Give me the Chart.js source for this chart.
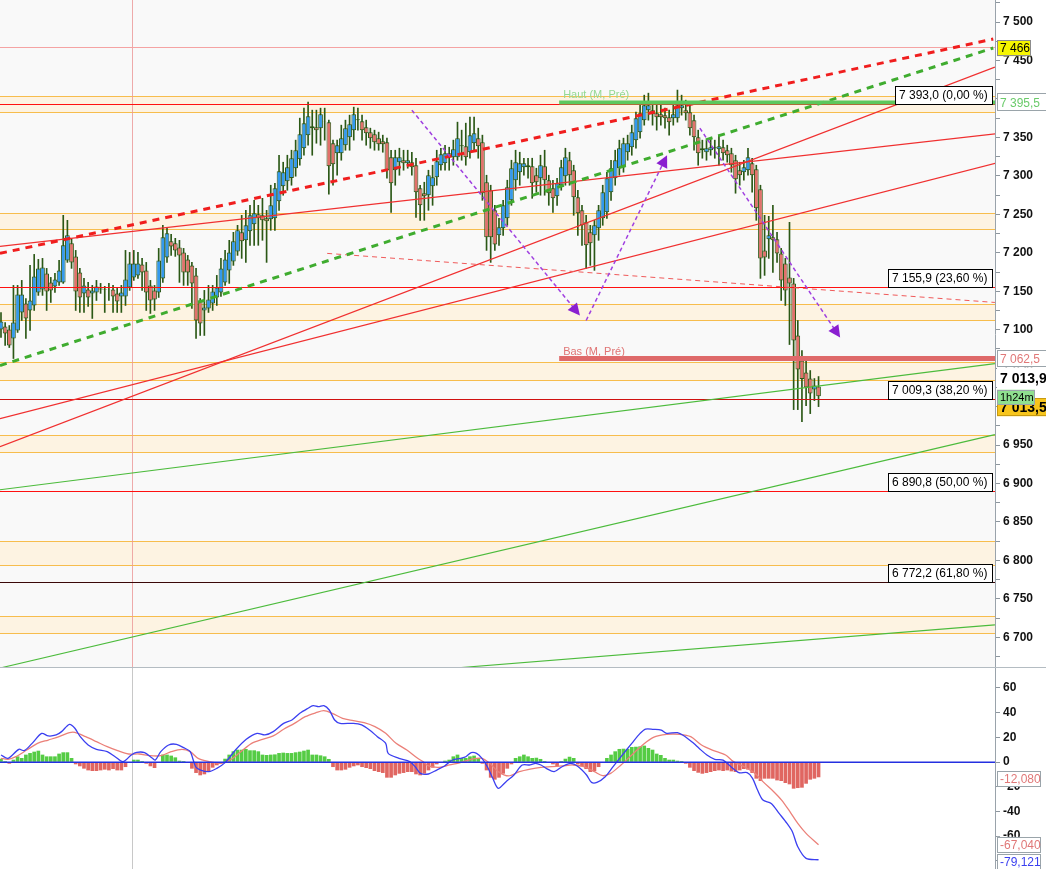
<!DOCTYPE html>
<html>
<head>
<meta charset="utf-8">
<script src="https://cdn.jsdelivr.net/npm/chart.js@4.4.0/dist/chart.umd.min.js"></script>
<style>
  body { margin: 0; background: #fff; width: 1046px; height: 869px; overflow: hidden; }
  #main { position: absolute; left: 0; top: 0; }
  #macd { position: absolute; left: 0; top: 668px; }
</style>
</head>
<body>
<canvas id="main" width="1046" height="668"></canvas>
<canvas id="macd" width="1046" height="201"></canvas>
<script>
// Candles (index 0..197), prices
const opens = [
  7100.2, 7104.1, 7100.2, 7088.5, 7099.0, 7122.4, 7134.1, 7125.0, 7131.5, 7148.5,
  7152.4, 7173.2, 7161.5, 7156.3, 7161.5, 7161.5, 7190.1, 7212.3, 7195.3, 7174.5,
  7147.2, 7152.4, 7147.2, 7148.5, 7152.4, 7152.4, 7152.4, 7152.4, 7147.2, 7143.2,
  7143.2, 7155.0, 7168.0, 7170.6, 7184.9, 7177.1, 7157.6, 7151.1, 7148.5, 7166.7,
  7194.0, 7214.9, 7212.3, 7207.0, 7200.5, 7191.4, 7183.6, 7170.6, 7138.0, 7125.0,
  7127.6, 7134.1, 7141.9, 7148.5, 7161.5, 7177.1, 7188.8, 7201.8, 7226.6, 7216.2,
  7227.9, 7237.0, 7250.0, 7248.7, 7244.8, 7243.5, 7244.8, 7266.9, 7286.5, 7293.0,
  7297.1, 7309.9, 7321.6, 7335.9, 7352.9, 7364.6, 7363.3, 7362.0, 7371.1, 7369.8,
  7342.4, 7329.4, 7329.4, 7339.8, 7350.3, 7359.4, 7372.4, 7371.1, 7363.3, 7356.8,
  7354.2, 7349.0, 7345.0, 7343.7, 7324.2, 7307.3, 7317.7, 7320.3, 7316.4, 7317.7,
  7313.8, 7283.9, 7277.4, 7274.8, 7286.5, 7298.2, 7313.8, 7316.4, 7329.4, 7324.2,
  7324.2, 7339.8, 7338.5, 7330.7, 7342.4, 7349.0, 7343.7, 7291.7, 7281.3, 7255.2,
  7222.7, 7231.8, 7244.8, 7268.2, 7294.3, 7304.7, 7311.2, 7313.8, 7312.5, 7300.8,
  7296.9, 7312.5, 7294.3, 7283.9, 7273.5, 7287.8, 7299.5, 7320.3, 7307.3, 7272.2,
  7255.2, 7239.6, 7226.6, 7222.7, 7231.8, 7244.8, 7252.6, 7278.7, 7296.9, 7309.9,
  7311.2, 7330.7, 7337.2, 7346.4, 7356.8, 7372.4, 7385.4, 7385.4, 7381.5, 7380.2,
  7378.9, 7376.3, 7375.0, 7375.0, 7388.0, 7385.4, 7382.8, 7372.4, 7350.3, 7333.3,
  7330.7, 7333.3, 7337.2, 7334.6, 7337.2, 7333.3, 7329.4, 7320.3, 7307.3, 7304.7,
  7307.3, 7316.4, 7308.6, 7282.6, 7203.1, 7217.5, 7220.1, 7217.5, 7199.2, 7186.2,
  7168.0, 7160.2, 7092.5, 7059.9, 7044.3, 7036.5, 7022.2, 7026.0
];
const closes = [
  7110.7, 7095.0, 7079.4, 7109.4, 7145.8, 7145.8, 7114.6, 7138.0, 7169.3, 7179.7,
  7181.0, 7149.8, 7151.1, 7165.4, 7177.1, 7209.7, 7222.7, 7187.5, 7149.8, 7141.9,
  7157.6, 7141.9, 7151.1, 7156.3, 7153.7, 7153.0, 7152.0, 7143.2, 7136.7, 7148.5,
  7165.4, 7186.2, 7186.2, 7186.2, 7174.5, 7148.5, 7138.0, 7139.3, 7190.1, 7220.1,
  7225.3, 7208.3, 7203.1, 7196.6, 7174.5, 7174.5, 7160.2, 7112.0, 7108.1, 7128.9,
  7139.3, 7149.8, 7155.0, 7179.7, 7191.4, 7200.5, 7214.9, 7229.2, 7214.9, 7235.7,
  7248.7, 7251.3, 7244.8, 7242.2, 7240.9, 7261.7, 7283.9, 7306.0, 7304.7, 7311.2,
  7322.9, 7333.3, 7354.2, 7368.5, 7377.6, 7362.0, 7359.4, 7380.2, 7370.5, 7312.5,
  7315.1, 7339.8, 7349.0, 7362.0, 7367.2, 7380.2, 7373.7, 7359.4, 7355.5, 7349.0,
  7343.7, 7341.1, 7341.1, 7307.3, 7290.4, 7324.2, 7324.2, 7316.4, 7320.3, 7311.2,
  7278.7, 7261.7, 7273.5, 7300.8, 7298.2, 7319.0, 7328.1, 7329.4, 7324.2, 7334.6,
  7349.0, 7338.5, 7324.2, 7352.9, 7355.5, 7338.5, 7277.4, 7220.1, 7220.1, 7210.9,
  7233.1, 7261.7, 7285.2, 7309.9, 7317.7, 7316.4, 7316.4, 7311.2, 7290.4, 7291.7,
  7313.8, 7294.3, 7277.4, 7270.8, 7290.4, 7311.2, 7324.2, 7300.8, 7272.2, 7251.3,
  7235.7, 7209.7, 7212.3, 7235.7, 7255.2, 7278.7, 7296.9, 7309.9, 7320.3, 7335.9,
  7342.4, 7342.4, 7356.8, 7375.0, 7381.5, 7391.9, 7391.9, 7380.2, 7376.3, 7376.3,
  7375.0, 7369.8, 7380.2, 7391.9, 7391.9, 7381.5, 7362.0, 7350.3, 7329.4, 7335.9,
  7335.9, 7337.2, 7335.9, 7338.5, 7329.4, 7326.8, 7313.8, 7295.6, 7300.8, 7311.2,
  7324.2, 7300.8, 7257.8, 7192.7, 7194.0, 7222.7, 7216.2, 7199.2, 7164.1, 7151.1,
  7160.2, 7086.0, 7048.2, 7036.0, 7024.7, 7017.0, 7027.4, 7013.5
];
const highs = [
  7122.4, 7109.4, 7105.4, 7157.6, 7157.6, 7164.1, 7140.6, 7183.6, 7197.9, 7191.4,
  7192.7, 7179.7, 7168.0, 7173.2, 7190.1, 7248.7, 7242.2, 7218.8, 7203.1, 7179.7,
  7166.7, 7161.5, 7157.6, 7164.1, 7160.2, 7156.3, 7160.2, 7157.6, 7153.7, 7157.6,
  7203.1, 7200.5, 7203.1, 7200.5, 7192.7, 7187.5, 7164.1, 7157.6, 7205.7, 7235.7,
  7231.8, 7224.0, 7218.8, 7216.2, 7205.7, 7196.6, 7187.5, 7179.7, 7140.6, 7151.1,
  7157.6, 7157.6, 7170.6, 7192.7, 7203.1, 7216.2, 7226.6, 7235.7, 7248.7, 7255.2,
  7261.7, 7268.2, 7261.7, 7270.8, 7255.2, 7287.8, 7290.3, 7326.8, 7317.7, 7326.8,
  7333.3, 7346.4, 7375.0, 7388.0, 7395.8, 7385.4, 7385.4, 7388.0, 7388.0, 7372.4,
  7346.4, 7346.4, 7365.9, 7372.4, 7378.9, 7389.3, 7388.0, 7378.9, 7372.4, 7362.0,
  7359.4, 7356.8, 7352.9, 7349.0, 7333.3, 7333.3, 7335.9, 7333.3, 7333.3, 7330.7,
  7322.9, 7287.8, 7291.7, 7307.3, 7313.8, 7333.3, 7335.9, 7339.8, 7337.2, 7346.4,
  7369.8, 7359.4, 7368.5, 7376.3, 7376.3, 7362.0, 7352.9, 7300.8, 7287.8, 7261.7,
  7244.8, 7268.2, 7294.3, 7320.3, 7333.3, 7330.7, 7322.9, 7322.9, 7322.9, 7309.9,
  7326.8, 7333.3, 7300.8, 7294.3, 7296.9, 7320.3, 7335.9, 7330.7, 7313.8, 7281.3,
  7261.7, 7248.7, 7235.7, 7242.2, 7261.7, 7287.8, 7304.7, 7320.3, 7333.3, 7346.4,
  7349.0, 7352.9, 7365.9, 7382.8, 7391.9, 7404.9, 7407.5, 7395.8, 7391.9, 7391.9,
  7388.0, 7385.4, 7391.9, 7411.5, 7404.9, 7398.4, 7391.9, 7378.9, 7359.4, 7346.4,
  7346.4, 7349.0, 7346.4, 7352.9, 7346.4, 7339.8, 7335.9, 7326.8, 7317.7, 7320.3,
  7335.9, 7322.9, 7313.8, 7287.8, 7248.7, 7247.4, 7261.7, 7226.6, 7205.7, 7192.7,
  7239.6, 7166.7, 7112.0, 7072.9, 7059.9, 7046.9, 7036.5, 7039.1
];
const lows = [
  7089.8, 7079.4, 7076.8, 7062.5, 7096.4, 7112.0, 7088.5, 7099.0, 7125.0, 7144.6,
  7144.6, 7125.0, 7135.4, 7148.5, 7157.6, 7160.2, 7187.5, 7179.7, 7125.0, 7122.4,
  7122.4, 7130.2, 7114.6, 7138.0, 7147.2, 7122.4, 7138.0, 7122.4, 7122.4, 7122.4,
  7131.5, 7151.1, 7164.1, 7166.7, 7151.1, 7125.0, 7121.1, 7125.0, 7141.9, 7161.5,
  7187.5, 7196.6, 7195.3, 7161.5, 7157.6, 7157.6, 7127.6, 7088.5, 7092.5, 7092.5,
  7122.4, 7125.0, 7131.5, 7143.2, 7157.6, 7160.2, 7183.6, 7196.6, 7192.7, 7187.5,
  7209.7, 7209.7, 7209.7, 7216.2, 7187.5, 7229.2, 7229.2, 7255.2, 7274.8, 7281.3,
  7287.8, 7299.5, 7313.8, 7326.8, 7339.8, 7326.8, 7342.4, 7339.8, 7346.4, 7276.1,
  7287.8, 7300.8, 7320.3, 7333.3, 7333.3, 7346.4, 7359.4, 7346.4, 7339.8, 7335.9,
  7333.3, 7333.3, 7330.7, 7296.9, 7252.6, 7287.8, 7300.8, 7307.3, 7309.9, 7300.8,
  7246.1, 7242.2, 7242.2, 7255.2, 7261.7, 7287.8, 7307.3, 7307.3, 7307.3, 7313.8,
  7320.3, 7320.3, 7313.8, 7322.9, 7333.3, 7322.9, 7268.2, 7203.1, 7187.5, 7203.1,
  7209.7, 7222.7, 7235.7, 7261.7, 7281.3, 7287.8, 7300.8, 7296.9, 7270.8, 7278.7,
  7274.8, 7274.8, 7261.7, 7252.6, 7261.7, 7281.3, 7287.8, 7287.8, 7248.7, 7222.7,
  7209.7, 7179.7, 7183.6, 7177.1, 7216.2, 7235.7, 7244.8, 7268.2, 7287.8, 7300.8,
  7304.7, 7320.3, 7326.8, 7335.9, 7349.0, 7365.9, 7372.4, 7365.9, 7359.4, 7365.9,
  7362.0, 7352.9, 7365.9, 7369.8, 7378.9, 7372.4, 7352.9, 7333.3, 7313.8, 7322.9,
  7320.3, 7326.8, 7322.9, 7313.8, 7320.3, 7317.7, 7304.7, 7277.4, 7287.8, 7294.3,
  7300.8, 7278.7, 7242.2, 7166.7, 7170.6, 7192.7, 7174.5, 7187.5, 7138.0, 7131.5,
  7080.7, 6996.1, 6996.1, 6980.5, 7001.3, 6990.9, 7007.8, 7000.0
];

// MACD panel
const macdHist = [
  2.4, 0.5, -1.1, 1.6, 4.3, 3.0, 5.7, 7.0, 8.1, 8.9,
  5.7, 4.3, 4.3, 4.3, 6.5, 7.6, 7.6, 3.0, -1.6, -3.2,
  -5.1, -6.5, -7.0, -7.0, -6.5, -5.9, -6.5, -5.4, -6.5, -6.5,
  -3.8, -0.5, 1.6, 1.6, 0.5, -1.1, -3.2, -4.6, -0.5, 5.7,
  5.7, 4.9, 3.5, 0.8, 0.5, -0.5, -5.1, -8.6, -10.5, -9.7,
  -7.8, -4.3, -2.4, -1.1, 2.4, 5.7, 8.4, 9.7, 9.7, 10.3,
  9.2, 9.2, 8.4, 5.7, 5.4, 5.7, 5.9, 7.0, 7.3, 7.0,
  7.0, 7.6, 8.1, 8.9, 9.7, 5.7, 5.7, 5.1, 4.3, 2.2,
  -3.8, -6.5, -6.5, -5.9, -4.3, -3.2, -2.4, -3.8, -4.6, -5.4,
  -7.0, -7.8, -8.6, -12.4, -12.4, -10.5, -9.2, -8.6, -7.8, -7.8,
  -9.7, -10.5, -9.2, -6.5, -4.3, -1.6, -0.5, 0.8, 1.6, 4.3,
  5.7, 3.0, 3.0, 4.3, 4.9, 3.0, -1.1, -6.5, -12.4, -14.0,
  -12.4, -9.2, -5.1, -1.6, 3.0, 4.3, 5.7, 4.3, 3.0, 3.2,
  2.2, 0.5, -0.5, -1.6, -3.2, 0.5, 2.4, 4.0, 3.0, -1.6,
  -3.2, -5.4, -7.8, -7.0, -3.8, -0.5, 3.0, 5.7, 8.4, 10.3,
  10.5, 10.3, 11.9, 12.1, 12.4, 13.0, 11.1, 9.7, 6.5, 5.4,
  3.0, 1.6, 1.6, 0.8, 0.2, -1.1, -4.3, -7.0, -8.4, -9.2,
  -8.6, -7.8, -7.0, -6.5, -7.0, -6.5, -7.3, -7.8, -6.5, -5.4,
  -5.9, -8.6, -13.2, -15.1, -13.2, -13.2, -13.2, -14.6, -15.1, -16.7,
  -17.8, -21.3, -20.8, -20.5, -17.3, -14.0, -13.2, -12.08
];
const macdLine = [
  [0, 5.7], [1.7, 3.0], [4.3, 10.3], [5.6, 9.2], [7.5, 15.1], [9.8, 23.2], [11.4, 21.1], [13.3, 21.9],
  [14.6, 24.6], [16.5, 30.5], [17.8, 27.3], [19.1, 20.5], [21.0, 13.8], [23.0, 10.3], [25.6, 8.4], [27.5, 4.3],
  [29.4, 0.3], [31.4, 5.7], [32.7, 7.8], [34.6, 7.6], [36.5, 3.0], [37.2, 1.6], [38.5, 8.4], [40.4, 13.8],
  [42.3, 14.3], [44.3, 11.1], [45.6, 8.4], [46.9, -3.8], [48.1, -6.5], [50.1, -7.8], [52.0, -5.1], [54.0, -0.5],
  [56.5, 9.7], [59.1, 18.4], [61.7, 23.2], [63.6, 21.9], [65.6, 24.6], [68.1, 31.3], [70.1, 34.0], [72.0, 39.4],
  [74.0, 43.5], [75.2, 45.6], [76.5, 44.8], [77.8, 45.6], [79.1, 42.1], [80.4, 34.0], [81.7, 31.3], [84.9, 31.3],
  [86.9, 30.0], [88.8, 25.9], [90.7, 20.5], [92.7, 15.1], [93.3, 7.0], [95.9, 3.0], [98.5, 0.3], [99.8, -3.8],
  [101.1, -9.2], [103.0, -9.7], [105.0, -6.5], [106.9, -3.2], [108.8, 1.6], [110.7, 3.0], [112.0, 4.3], [113.3, 7.6],
  [114.6, 7.0], [115.9, 3.0], [117.2, -3.8], [118.5, -13.2], [119.8, -21.3], [121.7, -15.9], [123.6, -10.5], [125.6, -2.4],
  [127.5, -2.4], [128.8, -1.1], [130.1, -2.4], [131.4, -5.1], [133.3, -7.8], [135.2, -3.8], [137.2, -1.1], [139.1, -3.8],
  [141.1, -10.5], [142.3, -16.5], [143.6, -16.5], [145.6, -11.9], [147.5, -3.8], [149.4, 4.3], [152.0, 15.1], [154.0, 23.2],
  [155.3, 26.7], [157.2, 26.5], [159.1, 25.9], [160.4, 23.2], [163.0, 23.8], [164.9, 20.5], [166.9, 15.1], [168.2, 11.1],
  [170.1, 5.7], [172.0, 2.2], [174.0, 1.6], [175.9, -3.8], [177.8, -8.6], [179.8, -8.6], [181.1, -13.2], [182.3, -22.7],
  [183.6, -30.8], [185.6, -33.5], [187.5, -41.6], [189.4, -49.7], [190.7, -56.4], [192.0, -68.6], [194.0, -78.0], [197, -79.121]
];
const signalLine = [
  [0, 3.0], [1.7, 2.2], [3.6, 4.3], [6.2, 9.7], [8.8, 15.1], [11.4, 17.8], [14.0, 20.5], [16.5, 23.8],
  [17.8, 24.0], [20.4, 20.5], [23.0, 16.5], [25.6, 12.4], [28.1, 9.2], [30.7, 6.5], [33.3, 6.5], [35.9, 5.1],
  [38.5, 5.1], [41.0, 8.4], [43.6, 10.3], [45.6, 8.4], [47.5, 3.0], [50.1, 0.3], [52.7, -1.1], [55.2, 1.6],
  [57.8, 8.4], [60.4, 15.1], [63.0, 18.4], [65.6, 21.1], [68.1, 26.5], [70.7, 31.3], [73.3, 36.7], [75.9, 39.9],
  [77.8, 41.6], [79.8, 39.4], [82.3, 35.4], [84.9, 33.5], [87.5, 31.8], [90.1, 28.6], [92.7, 23.2], [95.2, 15.1],
  [97.8, 9.7], [100.4, 3.0], [101.7, 0.3], [103.0, -3.2], [105.6, -4.3], [108.1, -2.4], [110.7, -0.5], [113.3, 2.2],
  [115.9, 3.0], [117.8, -1.1], [119.8, -7.8], [122.3, -11.3], [124.9, -7.8], [127.5, -5.7], [130.1, -4.3], [132.7, -3.8],
  [135.2, -3.2], [137.8, -2.4], [140.4, -3.8], [143.0, -7.8], [145.0, -11.1], [146.9, -9.2], [149.4, -2.4], [152.0, 5.7],
  [154.6, 13.8], [157.2, 20.0], [160.4, 22.4], [163.6, 22.4], [166.2, 20.5], [168.8, 13.8], [171.4, 9.7], [174.6, 5.7],
  [176.5, 0.3], [179.1, -3.8], [181.7, -9.2], [183.6, -15.9], [186.2, -24.0], [188.1, -30.8], [190.1, -40.2], [192.0, -49.7],
  [194.0, -57.8], [197, -67.04]
];

// Drawing objects on the price panel (candle index, price)
const bands = [[7403.6, 7382.8], [7251.3, 7230.5], [7134.0, 7112.0], [7058.6, 7035.2],
               [6963.5, 6941.4], [6825.5, 6794.3], [6727.9, 6705.7]];
const fibLevels = [7393.0, 7155.9, 7009.3, 6890.8, 6772.2];
const fibLabels = ['7 393,0 (0,00 %)', '7 155,9 (23,60 %)', '7 009,3 (38,20 %)', '6 890,8 (50,00 %)', '6 772,2 (61,80 %)'];
const fibColors = ['#ff1010', '#ff1010', '#d01010', '#ff1010', '#3a0808'];
const trendLines = [
  // [i1, p1, i2, p2, color, width, dash]
  [-0.24, 6947.9, 239.5, 7441.4, '#f03030', 1.3, []],
  [-0.24, 7208.3, 251.8, 7362.0, '#f03030', 1.3, []],
  [-0.24, 6984.4, 251.8, 7333.3, '#f03030', 1.3, []],
  [-0.24, 6891.9, 239.5, 7056.0, '#4cbb3c', 1.2, []],
  [-0.24, 6660.2, 239.5, 6963.5, '#4cbb3c', 1.2, []],
  [109.4, 6660.2, 239.5, 6716.2, '#4cbb3c', 1.2, []],
  [78.6, 7199.2, 239.5, 7135.4, '#f05a5a', 1, [5, 4]],
  [-0.24, 7199.2, 239.1, 7477.9, '#f01e1e', 3, [7, 6]],
  [-0.24, 7053.4, 239.1, 7466.2, '#3fac2f', 3, [7, 6]]
];
const arrows = [
  [99.0, 7385.4, 139.5, 7118.5],
  [141.0, 7112.0, 160.5, 7326.8],
  [168.4, 7362.0, 202.2, 7089.8]
];
const hautLevel = 7395.5, basLevel = 7062.5, levelStart = 134.5;
const topLevel = 7467, cursorIndex = 31.6;

const X_MIN = -0.24, X_MAX = 239.52;
const FONT = '"Liberation Sans", Arial, sans-serif';
const edgeColor = '#2b5816';

function fmtPrice(v) {
  const s = String(Math.round(v));
  return s.length > 3 ? s.slice(0, -3) + ' ' + s.slice(-3) : s;
}

function tag(ctx, x, y, w, h, text, o) {
  ctx.save();
  ctx.fillStyle = o.bg || '#fff';
  ctx.fillRect(x, y - h / 2, w, h);
  if (o.border) {
    ctx.strokeStyle = o.border;
    ctx.lineWidth = 1;
    ctx.strokeRect(Math.round(x) + 0.5, Math.round(y - h / 2) + 0.5, w - 1, h - 1);
  }
  ctx.fillStyle = o.fg || '#000';
  ctx.font = o.font || '12px ' + FONT;
  ctx.textBaseline = 'middle';
  ctx.fillText(text, x + 3, y + 1);
  ctx.restore();
}

function line(ctx, x1, y1, x2, y2, color, width, dash) {
  ctx.beginPath();
  ctx.setLineDash(dash || []);
  ctx.strokeStyle = color;
  ctx.lineWidth = width;
  ctx.moveTo(x1, y1);
  ctx.lineTo(x2, y2);
  ctx.stroke();
  ctx.setLineDash([]);
}

function hline(ctx, a, yy, color) {
  ctx.fillStyle = color;
  ctx.fillRect(a.left, Math.round(yy), a.width, 1);
}

const priceDecor = {
  id: 'priceDecor',
  beforeDatasetsDraw(chart) {
    const {ctx, chartArea: a, scales: {x, y}} = chart;
    ctx.save();
    ctx.fillStyle = '#f9f9f9';
    ctx.fillRect(a.left, a.top, a.width, a.height);
    bands.forEach(([t, b]) => {
      const yt = Math.round(y.getPixelForValue(t)), yb = Math.round(y.getPixelForValue(b));
      ctx.fillStyle = '#fdf3e2';
      ctx.fillRect(a.left, yt, a.width, yb - yt);
      hline(ctx, a, yt, '#f7bd4d');
      hline(ctx, a, yb, '#f7bd4d');
    });
    ctx.fillStyle = 'rgba(235,150,150,0.8)';
    ctx.fillRect(Math.round(x.getPixelForValue(cursorIndex)), a.top, 1, a.height);
    ctx.restore();
  },
  afterDatasetsDraw(chart) {
    const {ctx, chartArea: a, scales: {x, y}} = chart;
    ctx.save();
    ctx.beginPath();
    ctx.rect(a.left, a.top, a.width, a.height);
    ctx.clip();
    hline(ctx, a, y.getPixelForValue(topLevel), '#f5a3a3');
    fibLevels.forEach((p, k) => hline(ctx, a, y.getPixelForValue(p), fibColors[k]));

    trendLines.forEach(([i1, p1, i2, p2, c, w, d]) => {
      line(ctx, x.getPixelForValue(i1), y.getPixelForValue(p1), x.getPixelForValue(i2), y.getPixelForValue(p2), c, w, d);
    });

    // Haut / Bas (M, Pré)
    const xs = x.getPixelForValue(levelStart);
    const yh = y.getPixelForValue(hautLevel), yl = y.getPixelForValue(basLevel);
    line(ctx, xs, yh, a.right, yh, '#5cc85c', 4);
    line(ctx, xs, yl, a.right, yl, '#df6a6a', 5);
    ctx.font = '11px ' + FONT;
    ctx.fillStyle = '#93d993';
    ctx.fillText('Haut (M, Pré)', xs + 4, yh - 4);
    ctx.fillStyle = '#e07474';
    ctx.fillText('Bas (M, Pré)', xs + 4, yl - 4);

    // purple arrows
    arrows.forEach(([i1, p1, i2, p2]) => {
      const x1 = x.getPixelForValue(i1), y1 = y.getPixelForValue(p1);
      const x2 = x.getPixelForValue(i2), y2 = y.getPixelForValue(p2);
      const ang = Math.atan2(y2 - y1, x2 - x1);
      line(ctx, x1, y1, x2 - 8 * Math.cos(ang), y2 - 8 * Math.sin(ang), '#a040e0', 1.5, [4, 3]);
      ctx.beginPath();
      ctx.fillStyle = '#8a1fd0';
      ctx.moveTo(x2, y2);
      ctx.lineTo(x2 - 12 * Math.cos(ang) + 6 * Math.sin(ang), y2 - 12 * Math.sin(ang) - 6 * Math.cos(ang));
      ctx.lineTo(x2 - 12 * Math.cos(ang) - 6 * Math.sin(ang), y2 - 12 * Math.sin(ang) + 6 * Math.cos(ang));
      ctx.closePath();
      ctx.fill();
    });

    // Fibonacci labels
    ctx.font = '12px ' + FONT;
    fibLevels.forEach((p, k) => {
      const yy = Math.round(y.getPixelForValue(p));
      const w = Math.ceil(ctx.measureText(fibLabels[k]).width) + 9;
      const bx = 993 - w;
      ctx.fillStyle = '#fff';
      ctx.fillRect(bx, yy - 18, w, 18);
      ctx.strokeStyle = '#000';
      ctx.lineWidth = 1;
      ctx.strokeRect(bx + 0.5, yy - 17.5, w - 1, 18);
      ctx.fillStyle = '#000';
      ctx.textBaseline = 'middle';
      ctx.fillText(fibLabels[k], bx + 4, yy - 8);
      ctx.textBaseline = 'alphabetic';
    });
    ctx.restore();
  },
  afterDraw(chart) {
    const {ctx, chartArea: a, scales: {y}} = chart;
    const x0 = a.right + 2;
    const last = closes[closes.length - 1];
    const yLast = y.getPixelForValue(last);
    tag(ctx, x0, y.getPixelForValue(7466), 34, 16, '7 466', {bg: '#f6f600', border: '#8c8c8c'});
    tag(ctx, x0, y.getPixelForValue(hautLevel), 50, 18, '7 395,5', {bg: '#fff', border: '#9aa4aa', fg: '#6acb6a'});
    tag(ctx, x0, y.getPixelForValue(basLevel), 50, 17, '7 062,5', {bg: '#fff', border: '#9aa4aa', fg: '#e07878'});
    tag(ctx, x0, yLast - 18, 50, 22, '7 013,9', {bg: '#fff', fg: '#000', font: 'bold 14px ' + FONT});
    tag(ctx, x0, yLast + 11, 50, 18, '7 013,5', {bg: '#f7c51c', border: '#c89a10', fg: '#000', font: 'bold 14px ' + FONT});
    tag(ctx, x0, yLast + 1, 38, 15, '1h24m', {bg: '#8fe08f', border: '#9aa4aa', fg: '#000', font: '11px ' + FONT});
    ctx.fillStyle = '#b4bcc2';
    ctx.fillRect(0, chart.height - 1, chart.width, 1);
  }
};

new Chart(document.getElementById('main'), {
  type: 'bar',
  data: {
    datasets: [
      {
        data: highs.map((h, i) => ({x: i, y: [lows[i], h]})),
        backgroundColor: edgeColor,
        barThickness: 1,
        grouped: false,
        order: 2
      },
      {
        data: opens.map((o, i) => ({x: i, y: [o, closes[i]]})),
        backgroundColor: opens.map((o, i) => closes[i] >= o ? '#3399ee' : '#e2716b'),
        borderColor: edgeColor,
        borderWidth: 1,
        borderSkipped: false,
        barThickness: 4.7,
        inflateAmount: 0,
        grouped: false,
        order: 1
      }
    ]
  },
  options: {
    responsive: false,
    animation: false,
    devicePixelRatio: 1,
    layout: { padding: 0 },
    plugins: { legend: { display: false }, tooltip: { enabled: false } },
    scales: {
      x: { type: 'linear', min: X_MIN, max: X_MAX, offset: false, display: false },
      y: {
        position: 'right',
        min: 6660.2,
        max: 7528.6,
        afterFit(s) { s.width = 51; s.paddingTop = 0; s.paddingBottom = 0; },
        ticks: {
          stepSize: 25,
          includeBounds: false,
          padding: 3,
          color: '#111',
          font: { family: FONT, size: 12, weight: 'bold' },
          callback: v => (v % 50 === 0 ? fmtPrice(v) : '')
        },
        grid: { drawOnChartArea: false, tickLength: 5, color: '#8d969e' },
        border: { color: '#9aa3ab' }
      }
    }
  },
  plugins: [priceDecor]
});

const macdDecor = {
  id: 'macdDecor',
  beforeDatasetsDraw(chart) {
    const {ctx, chartArea: a, scales: {x}} = chart;
    ctx.save();
    ctx.fillStyle = '#c8c8c8';
    ctx.fillRect(Math.round(x.getPixelForValue(cursorIndex)), a.top, 1, a.height);
    ctx.restore();
  },
  afterDatasetsDraw(chart) {
    const {ctx, chartArea: a, scales: {y}} = chart;
    ctx.save();
    ctx.fillStyle = '#2430e0';
    ctx.fillRect(a.left, Math.round(y.getPixelForValue(0)) - 0.5, a.width, 1.5);
    ctx.restore();
  },
  afterDraw(chart) {
    const {ctx, chartArea: a, scales: {y}} = chart;
    const x0 = a.right + 2;
    tag(ctx, x0, y.getPixelForValue(macdHist[macdHist.length - 1]) + 2, 44, 16, '-12,080', {bg: '#fff', border: '#9aa4aa', fg: '#e07878'});
    tag(ctx, x0, y.getPixelForValue(signalLine[signalLine.length - 1][1]), 44, 16, '-67,040', {bg: '#fff', border: '#9aa4aa', fg: '#e07878'});
    tag(ctx, x0, y.getPixelForValue(macdLine[macdLine.length - 1][1]) + 2, 44, 16, '-79,121', {bg: '#fff', border: '#9aa4aa', fg: '#3a3ff0'});
  }
};

new Chart(document.getElementById('macd'), {
  type: 'bar',
  data: {
    datasets: [
      {
        type: 'line',
        data: macdLine.map(([i, v]) => ({x: i, y: v})),
        borderColor: '#3b3ff0',
        borderWidth: 1.3,
        pointRadius: 0,
        tension: 0.3,
        order: 0
      },
      {
        type: 'line',
        data: signalLine.map(([i, v]) => ({x: i, y: v})),
        borderColor: '#eb8079',
        borderWidth: 1.3,
        pointRadius: 0,
        tension: 0.3,
        order: 1
      },
      {
        data: macdHist.map((v, i) => ({x: i, y: v})),
        backgroundColor: macdHist.map(v => (v >= 0 ? '#55cc44' : '#e06661')),
        barThickness: 3,
        grouped: false,
        order: 2
      }
    ]
  },
  options: {
    responsive: false,
    animation: false,
    devicePixelRatio: 1,
    layout: { padding: 0 },
    plugins: { legend: { display: false }, tooltip: { enabled: false } },
    scales: {
      x: { type: 'linear', min: X_MIN, max: X_MAX, offset: false, display: false },
      y: {
        position: 'right',
        min: -86.6,
        max: 76.1,
        afterFit(s) { s.width = 51; s.paddingTop = 0; s.paddingBottom = 0; },
        ticks: {
          stepSize: 10,
          includeBounds: false,
          padding: 3,
          color: '#111',
          font: { family: FONT, size: 12, weight: 'bold' },
          callback: v => (v % 20 === 0 ? String(v) : '')
        },
        grid: { drawOnChartArea: false, tickLength: 5, color: '#8d969e' },
        border: { color: '#9aa3ab' }
      }
    }
  },
  plugins: [macdDecor]
});
</script>
</body>
</html>
